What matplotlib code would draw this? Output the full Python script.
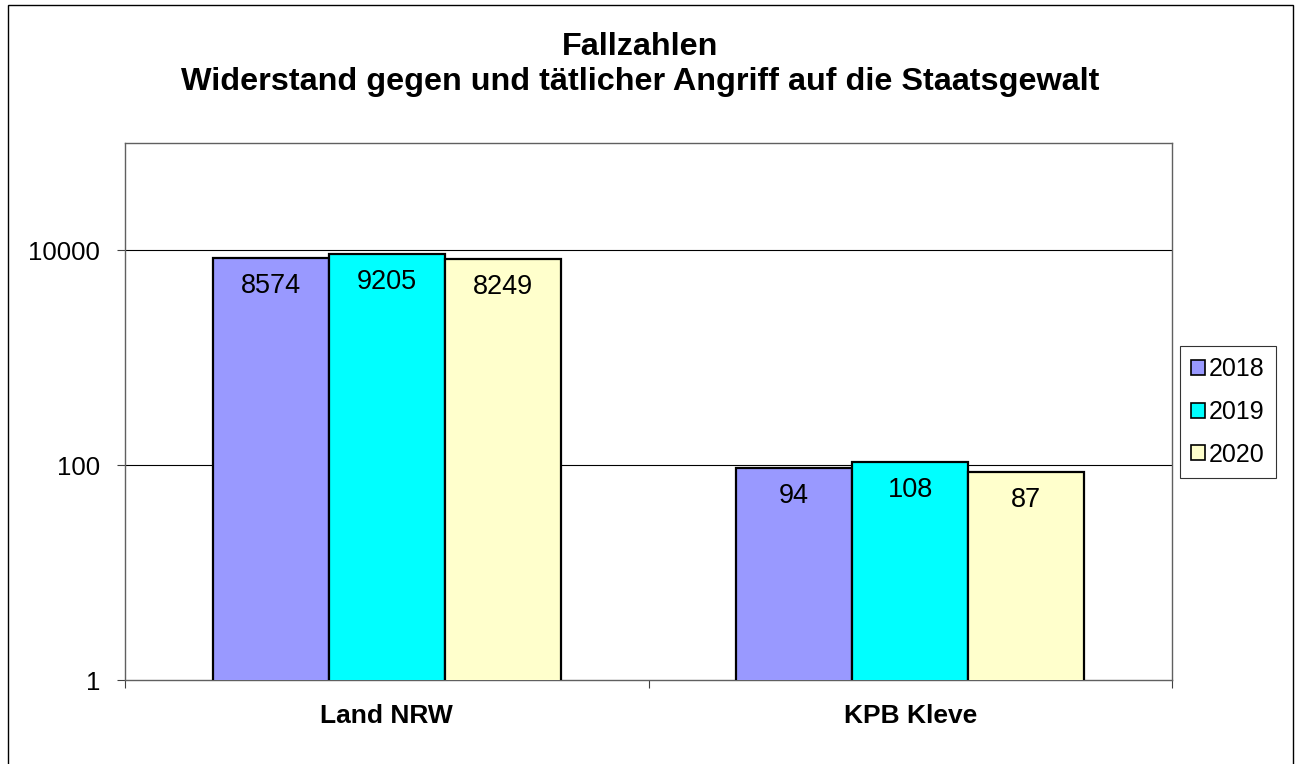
import matplotlib.pyplot as plt
from matplotlib.patches import Rectangle, Patch
import numpy as np

plt.rcParams['font.family'] = ['Liberation Sans', 'DejaVu Sans']

categories = ['Land NRW', 'KPB Kleve']
years = ['2018', '2019', '2020']
values_2018 = [8574, 94]
values_2019 = [9205, 108]
values_2020 = [8249, 87]
colors = ['#9999FF', '#00FFFF', '#FFFFCC']

fig = plt.figure(figsize=(13, 7.64), dpi=100)
ax = fig.add_axes([125/1300, 84/764, (1172-125)/1300, (680-143)/764])

x = np.arange(len(categories))
w = 0.2216
series = [values_2018, values_2019, values_2020]
for i, vals in enumerate(series):
    pos = x + (i - 1) * w
    bars = ax.bar(pos, vals, width=w, color=colors[i], edgecolor='black',
                  linewidth=1.6, zorder=3, label=years[i])
    for b, v in zip(bars, vals):
        ax.annotate(str(v), (b.get_x() + b.get_width()/2, v),
                    xytext=(0, -28), textcoords='offset pixels',
                    ha='center', va='center', fontsize=19.5, zorder=4)

ax.set_yscale('log')
ax.set_ylim(1, 100000)
ax.set_xlim(-0.5, 1.5)
ax.set_yticks([1, 100, 10000])
ax.set_yticklabels(['1', '100', '10000'], fontsize=18.5)
ax.yaxis.set_minor_locator(plt.NullLocator())
ax.tick_params(axis='y', which='major', direction='out', length=6, width=0.8,
               color='#404040', pad=12)
for yv in [100, 10000]:
    ax.axhline(yv, color='black', linewidth=0.8, zorder=1)

ax.set_xticks([-0.5, 0.5, 1.5])
ax.set_xticklabels(['', '', ''])
ax.set_xticks(x, minor=True)
ax.set_xticklabels(categories, minor=True, fontsize=19, fontweight='bold')
ax.tick_params(axis='x', which='major', direction='out', length=6, width=0.8,
               color='#404040')
ax.tick_params(axis='x', which='minor', length=0, pad=17)

for s in ax.spines.values():
    s.set_color('#606060')
    s.set_linewidth(1.0)

fig.text(640/1300, 1 - 47/764, 'Fallzahlen', ha='center', va='center',
         fontsize=23.3, fontweight='bold')
fig.text(640/1300, 1 - 82/764, 'Widerstand gegen und tätlicher Angriff auf die Staatsgewalt',
         ha='center', va='center', fontsize=23.3, fontweight='bold')

handles = [Patch(facecolor=c, edgecolor='black', linewidth=1.2) for c in colors]
leg = fig.legend(handles, years, loc='center left',
                 bbox_to_anchor=(1180/1300, 1 - 412/764),
                 fontsize=18, frameon=True, fancybox=False, edgecolor='black',
                 handlelength=0.55, handleheight=0.55, handletextpad=0.15,
                 labelspacing=0.75, borderpad=0.45, borderaxespad=0)
leg.get_frame().set_linewidth(0.8)

fig.patches.append(Rectangle((8/1300, -0.02), (1293-8)/1300, 1.02 - 5/764,
                             transform=fig.transFigure, fill=False,
                             edgecolor='black', linewidth=1.0))

fig.savefig('out.png', dpi=100)
